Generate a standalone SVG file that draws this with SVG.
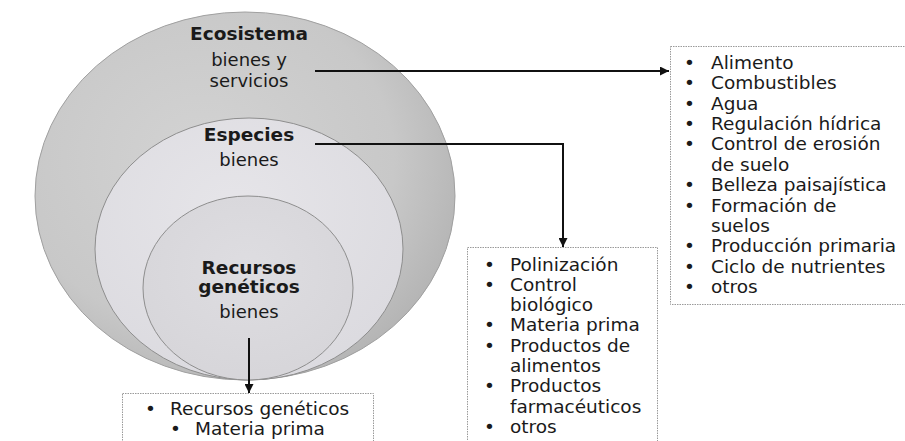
<svg xmlns="http://www.w3.org/2000/svg" width="905" height="441" viewBox="0 0 905 441">
<defs>
<radialGradient id="gOuter" cx="0.4" cy="0.4" r="0.65">
<stop offset="0" stop-color="#d3d3d3"/>
<stop offset="0.7" stop-color="#c8c8c8"/>
<stop offset="1" stop-color="#b4b4b4"/>
</radialGradient>
<radialGradient id="gMid" cx="0.45" cy="0.35" r="0.7">
<stop offset="0" stop-color="#e6e5e9"/>
<stop offset="1" stop-color="#dbdadf"/>
</radialGradient>
<radialGradient id="gIn" cx="0.5" cy="0.4" r="0.65">
<stop offset="0" stop-color="#dedde1"/>
<stop offset="1" stop-color="#d6d5d9"/>
</radialGradient>
<marker id="arr" viewBox="0 0 10 10" refX="10" refY="5" markerWidth="5" markerHeight="4.5" orient="auto" markerUnits="strokeWidth">
<path d="M0,0 L10,5 L0,10 z" fill="#111"/>
</marker>
</defs>
<style>
text{font-family:"DejaVu Sans","Liberation Sans",sans-serif;fill:#1a1a1a}
.t{font-size:18px}
.b{font-size:18.5px;font-weight:bold}
.c{text-anchor:middle}
.l{font-size:18.5px}
.box{fill:#ffffff;stroke:#9a9a9a;stroke-width:1;stroke-dasharray:1.5 1}
.con{fill:none;stroke:#111;stroke-width:2}
</style>
<rect width="905" height="441" fill="#ffffff"/>
<g id="ecosistema">
<ellipse cx="245" cy="196" rx="210" ry="184" fill="url(#gOuter)" stroke="#a0a0a0" stroke-width="1"/>
<text class="b c" x="249" y="40">Ecosistema</text>
<text class="t c" x="249" y="66">bienes y</text>
<text class="t c" x="249" y="87">servicios</text>
</g>
<g id="especies">
<ellipse cx="249" cy="249" rx="154" ry="131" fill="url(#gMid)" stroke="#8e8e8e" stroke-width="1"/>
<text class="b c" x="249" y="141">Especies</text>
<text class="t c" x="249" y="166">bienes</text>
</g>
<g id="recursos">
<ellipse cx="248" cy="288" rx="105" ry="92" fill="url(#gIn)" stroke="#8e8e8e" stroke-width="1"/>
<text class="b c" x="249" y="274">Recursos</text>
<text class="b c" x="249" y="293">genéticos</text>
<text class="t c" x="249" y="318">bienes</text>
</g>
<g id="box-servicios">
<rect class="box" x="670.5" y="46.5" width="250" height="258"/>
<g class="l">
<text x="684" y="69">•</text><text x="711" y="69">Alimento</text>
<text x="684" y="89.4">•</text><text x="711" y="89.4">Combustibles</text>
<text x="684" y="109.7">•</text><text x="711" y="109.7">Agua</text>
<text x="684" y="130.1">•</text><text x="711" y="130.1">Regulación hídrica</text>
<text x="684" y="150.4">•</text><text x="711" y="150.4">Control de erosión</text>
<text x="711" y="170.8">de suelo</text>
<text x="684" y="191.1">•</text><text x="711" y="191.1">Belleza paisajística</text>
<text x="684" y="211.5">•</text><text x="711" y="211.5">Formación de</text>
<text x="711" y="231.8">suelos</text>
<text x="684" y="252.2">•</text><text x="711" y="252.2">Producción primaria</text>
<text x="684" y="272.6">•</text><text x="711" y="272.6">Ciclo de nutrientes</text>
<text x="684" y="293">•</text><text x="711" y="293">otros</text>
</g>
</g>
<g id="box-especies">
<rect class="box" x="467.5" y="247.5" width="190" height="210"/>
<g class="l">
<text x="484" y="270.5">•</text><text x="510" y="270.5">Polinización</text>
<text x="484" y="290.8">•</text><text x="510" y="290.8">Control</text>
<text x="510" y="311.1">biológico</text>
<text x="484" y="331.4">•</text><text x="510" y="331.4">Materia prima</text>
<text x="484" y="351.7">•</text><text x="510" y="351.7">Productos de</text>
<text x="510" y="372">alimentos</text>
<text x="484" y="392.3">•</text><text x="510" y="392.3">Productos</text>
<text x="510" y="412.6">farmacéuticos</text>
<text x="484" y="432.9">•</text><text x="510" y="432.9">otros</text>
</g>
</g>
<g id="box-recursos">
<rect class="box" x="122.5" y="393.5" width="251" height="60"/>
<g class="l">
<text x="145" y="415">•</text><text x="170" y="415">Recursos genéticos</text>
<text x="170" y="435">•</text><text x="195" y="435">Materia prima</text>
</g>
</g>
<g id="connectors">
<path class="con" d="M315,71 H669" marker-end="url(#arr)"/>
<path class="con" d="M315,144 H563 V247" marker-end="url(#arr)"/>
<path class="con" d="M249,338 V393" marker-end="url(#arr)"/>
</g>
</svg>
